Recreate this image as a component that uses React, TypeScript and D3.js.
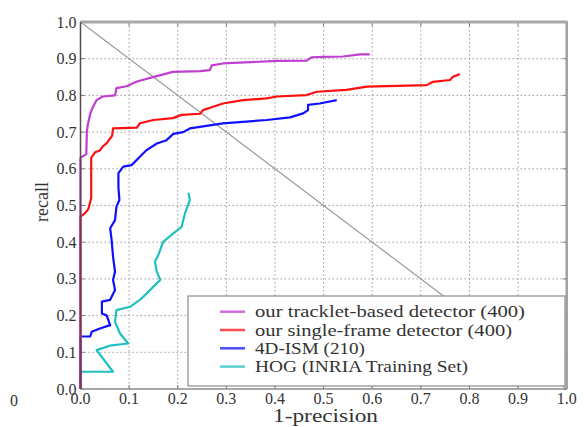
import React from 'react';
import * as d3 from 'd3';

// recall vs 1-precision curves
const tracklet: [number, number][] = [
  [0, 0], [0, 0.63], [0.012, 0.64], [0.013, 0.70], [0.015, 0.72], [0.02, 0.75], [0.026, 0.77],
  [0.033, 0.787], [0.046, 0.797], [0.071, 0.80], [0.074, 0.82], [0.095, 0.825], [0.116, 0.838],
  [0.153, 0.851], [0.19, 0.864], [0.246, 0.866], [0.266, 0.869], [0.27, 0.882], [0.293, 0.887],
  [0.404, 0.894], [0.465, 0.895], [0.476, 0.904], [0.499, 0.905], [0.54, 0.906], [0.575, 0.912],
  [0.595, 0.912],
];

const singleFrame: [number, number][] = [
  [0, 0], [0, 0.47], [0.01, 0.48], [0.016, 0.49], [0.02, 0.51], [0.022, 0.52], [0.022, 0.63],
  [0.03, 0.645], [0.04, 0.65], [0.045, 0.66], [0.054, 0.67], [0.065, 0.69], [0.067, 0.71],
  [0.116, 0.712], [0.122, 0.724], [0.15, 0.733], [0.19, 0.738], [0.208, 0.747], [0.246, 0.75],
  [0.252, 0.76], [0.273, 0.769], [0.293, 0.778], [0.334, 0.787], [0.383, 0.792], [0.404, 0.797],
  [0.465, 0.801], [0.486, 0.81], [0.547, 0.815], [0.589, 0.824], [0.712, 0.828], [0.725, 0.837],
  [0.76, 0.842], [0.766, 0.851], [0.78, 0.858],
];

const ism4d: [number, number][] = [
  [0, 0], [0, 0.143], [0.02, 0.143], [0.023, 0.156], [0.04, 0.165], [0.061, 0.174], [0.054, 0.20],
  [0.044, 0.206], [0.044, 0.238], [0.061, 0.243], [0.071, 0.27], [0.067, 0.297], [0.071, 0.32],
  [0.067, 0.36], [0.064, 0.406], [0.061, 0.438], [0.071, 0.46], [0.074, 0.497], [0.08, 0.515],
  [0.078, 0.55], [0.078, 0.588], [0.088, 0.606], [0.105, 0.61], [0.122, 0.633], [0.136, 0.651],
  [0.157, 0.669], [0.177, 0.678], [0.191, 0.695], [0.211, 0.70], [0.225, 0.71], [0.293, 0.724],
  [0.383, 0.733], [0.431, 0.74], [0.458, 0.751], [0.468, 0.76], [0.468, 0.774], [0.492, 0.778],
  [0.527, 0.787],
];

const hog: [number, number][] = [
  [0, 0], [0, 0.047], [0.067, 0.047], [0.033, 0.106], [0.06, 0.118], [0.098, 0.124], [0.081, 0.152],
  [0.071, 0.183], [0.074, 0.215], [0.102, 0.224], [0.122, 0.243], [0.136, 0.26], [0.15, 0.279],
  [0.164, 0.297], [0.157, 0.32], [0.153, 0.347], [0.16, 0.365], [0.17, 0.401], [0.191, 0.424],
  [0.208, 0.442], [0.215, 0.479], [0.225, 0.515], [0.222, 0.535],
];

const seriesNames = [
  'our tracklet-based detector (400)',
  'our single-frame detector (400)',
  '4D-ISM (210)',
  'HOG (INRIA Training Set)',
];
const seriesColors = ['#bf3fcf', '#ff1010', '#1010ff', '#20c0c0'];
const seriesData = [tracklet, singleFrame, ism4d, hog];

const ticks = [0, 0.1, 0.2, 0.3, 0.4, 0.5, 0.6, 0.7, 0.8, 0.9, 1.0];

const W = 584;
const H = 427;
const left = 80.5, right = 566.7, top = 22, bottom = 389;
// legend label widths measured on the reference
const legendWidths = [270, 257, 110, 213];

export default function App() {
  const x = d3.scaleLinear().domain([0, 1]).range([left, right]);
  const y = d3.scaleLinear().domain([0, 1]).range([bottom, top]);
  const line = d3.line<[number, number]>().x(d => x(d[0])).y(d => y(d[1]));
  const font = "'Liberation Serif', 'Times New Roman', serif";

  return (
    <svg width={W} height={H} style={{ position: 'absolute', left: 0, top: 0, background: '#fff' }}>
      {/* grid */}
      <g stroke="#9a9a9a" strokeWidth={1} strokeDasharray="1.5,2.5">
        {ticks.slice(1, -1).map(t => (
          <line key={'gx' + t} x1={x(t)} x2={x(t)} y1={top} y2={bottom} />
        ))}
        {ticks.slice(1, -1).map(t => (
          <line key={'gy' + t} x1={left} x2={right} y1={y(t)} y2={y(t)} />
        ))}
      </g>
      {/* ticks, inward on all sides */}
      <g stroke="#777" strokeWidth={1}>
        {ticks.map(t => (
          <g key={'t' + t}>
            <line x1={x(t)} x2={x(t)} y1={bottom} y2={bottom - 4} />
            <line x1={x(t)} x2={x(t)} y1={top} y2={top + 4} />
            <line x1={left} x2={left + 4} y1={y(t)} y2={y(t)} />
            <line x1={right} x2={right - 4} y1={y(t)} y2={y(t)} />
          </g>
        ))}
      </g>
      {/* x + y = 1 diagonal */}
      <line x1={x(0)} y1={y(1)} x2={x(1)} y2={y(0)} stroke="#999" strokeWidth={1.2} />
      {/* curves */}
      {seriesData.map((d, i) => (
        <path key={i} d={line(d) ?? ''} fill="none" stroke={seriesColors[i]} strokeWidth={2.2} strokeLinejoin="round" />
      )).reverse()}
      {/* frame */}
      <line x1={left} x2={right + 1} y1={top} y2={top} stroke="#a8a8a8" strokeWidth={3} />
      <line x1={right} x2={right} y1={top} y2={bottom} stroke="#a0a0a0" strokeWidth={2.5} />
      <line x1={left} x2={right} y1={bottom} y2={bottom} stroke="#8a8a8a" strokeWidth={1.5} />
      <line x1={left} x2={left} y1={top} y2={bottom} stroke="#5a4a4a" strokeWidth={1.5} />
      {/* legend */}
      <g>
        <rect x={188} y={296} width={377} height={90} fill="#fff" stroke="#8a8a8a" strokeWidth={1.2} />
        {seriesNames.map((n, i) => {
          const ly = 311.7 + i * 18.3;
          return (
            <g key={n}>
              <line x1={220} x2={245} y1={ly} y2={ly} stroke={seriesColors[i]} strokeWidth={2.5} opacity={0.75} />
              <text x={255} y={ly + 5.5} fontFamily={font} fontSize={17} fill="#333"
                textLength={legendWidths[i]} lengthAdjust="spacingAndGlyphs">{n}</text>
            </g>
          );
        })}
      </g>
      {/* tick labels */}
      <g fontFamily={font} fontSize={16} fill="#333">
        {ticks.map(t => (
          <text key={'xl' + t} x={x(t)} y={404} textAnchor="middle">{t.toFixed(1)}</text>
        ))}
        {ticks.map(t => (
          <text key={'yl' + t} x={left - 4} y={y(t) + 5.5} textAnchor="end">{t.toFixed(1)}</text>
        ))}
        <text x={14} y={406} textAnchor="middle">0</text>
      </g>
      <text x={273} y={422} fontFamily={font} fontSize={18} fill="#333"
        textLength={105} lengthAdjust="spacingAndGlyphs">1-precision</text>
      <text transform={`translate(48,202) rotate(-90)`} textAnchor="middle" fontFamily={font} fontSize={18} fill="#333">recall</text>
    </svg>
  );
}
